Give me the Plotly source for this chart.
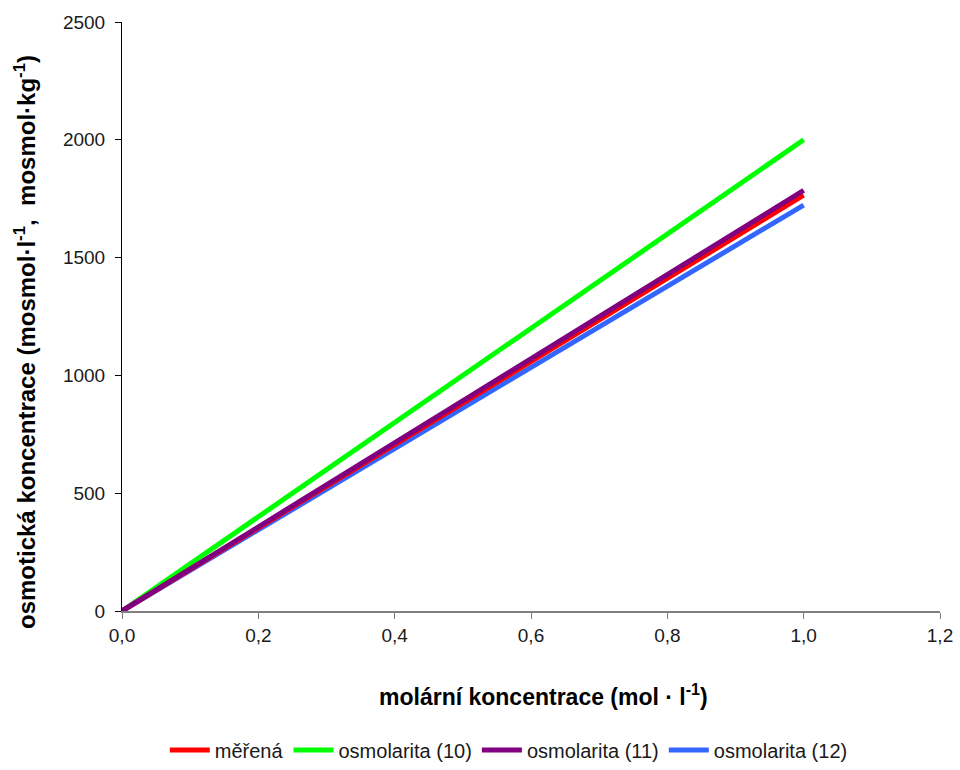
import plotly.graph_objects as go

x_vals = [0.0, 1.0]
merena = [0, 1765]
osm10 = [0, 2000]
osm11 = [0, 1785]
osm12 = [0, 1723]

series = [
    ("měřená", merena, "#ff0000"),
    ("osmolarita (10)", osm10, "#00ff00"),
    ("osmolarita (11)", osm11, "#800080"),
    ("osmolarita (12)", osm12, "#3366ff"),
]

fig = go.Figure()
order_draw = [1, 3, 0, 2]
for i in order_draw:
    name, vals, col = series[i]
    fig.add_trace(go.Scatter(x=x_vals, y=vals, mode="lines", name=name,
                             line=dict(color=col, width=5), legendrank=i + 1))

fig.update_layout(
    width=960, height=770,
    paper_bgcolor="white", plot_bgcolor="white",
    margin=dict(l=122, r=20, t=22, b=159, autoexpand=False),
    font=dict(family="Liberation Sans, Arial", size=19, color="#1a1a1a"),
    showlegend=True,
    legend=dict(orientation="h", x=0.53, xanchor="center", xref="container",
                y=1 - 750 / 770, yanchor="middle", yref="container",
                font=dict(size=20), itemwidth=40, tracegroupgap=0,
                traceorder="normal"),
    xaxis=dict(range=[0, 1.2], tickvals=[0, 0.2, 0.4, 0.6, 0.8, 1.0, 1.2],
               ticktext=["0,0", "0,2", "0,4", "0,6", "0,8", "1,0", "1,2"],
               showgrid=False, zeroline=False, showline=True, linecolor="#808080",
               linewidth=1.5, ticks="outside", ticklen=6, tickcolor="#808080",
               tickfont=dict(size=19), automargin=False),
    yaxis=dict(range=[0, 2500], tickvals=[0, 500, 1000, 1500, 2000, 2500],
               showgrid=False, zeroline=False, showline=True, linecolor="black",
               linewidth=1, ticks="outside", ticklen=6, tickcolor="black",
               tickfont=dict(size=19), ticklabelstandoff=6, automargin=False),
    annotations=[
        dict(text="<b>molární koncentrace (mol · l<sup>-1</sup>)</b>",
             xref="paper", yref="paper", x=(543 - 122) / 818, y=(611 - 695) / 589,
             xanchor="center", yanchor="middle", showarrow=False,
             font=dict(size=23, color="black")),
        dict(text="<b>osmotická koncentrace (mosmol·l<sup>-1</sup>,  mosmol·kg<sup>-1</sup>)</b>",
             xref="paper", yref="paper", x=(25 - 122) / 818, y=(611 - 342) / 589,
             xanchor="center", yanchor="middle", textangle=-90, showarrow=False,
             font=dict(size=24, color="black")),
    ],
)
fig.write_html("out.html")
